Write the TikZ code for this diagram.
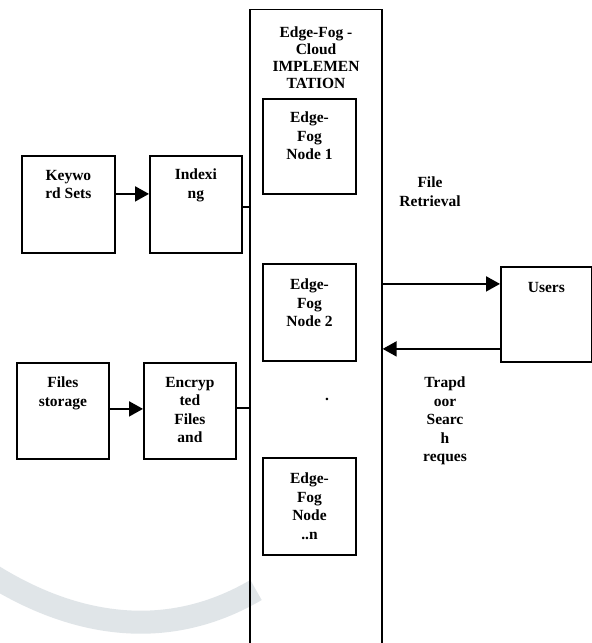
\documentclass[tikz,border=0pt]{standalone}
\usepackage{fontspec}
\setmainfont{Liberation Serif}
\usetikzlibrary{arrows.meta}
\begin{document}
\begin{tikzpicture}[x=1pt,y=-1pt,
  box/.style={draw=black,line width=1.8pt,minimum width=#1,inner sep=0pt},
  box/.default=92pt,
  lbl/.style={font=\fontsize{15.5}{18.4}\selectfont\bfseries,align=center,inner sep=0pt,anchor=north},
  arr/.style={line width=2pt,-{Triangle[length=14pt,width=15pt]}},
  conn/.style={line width=1.3pt}]
\useasboundingbox (0,0) rectangle (592,643);
\clip (0,0) rectangle (592,643);
\fill[white] (0,0) rectangle (592,643);
% watermark arc
\draw[line width=23pt,color={rgb,255:red,224;green,229;blue,232}]
  (-10,574) .. controls (50,612) and (150,652) .. (256,590);
% big box
\node[draw=black,line width=1.3pt,minimum width=132pt,minimum height=660pt,inner sep=0pt,anchor=north] (cloud) at (316,9) {};
\node[lbl,font=\fontsize{15.5}{16.8}\selectfont\bfseries] (title) at (316,27) {Edge-Fog -\\Cloud\\IMPLEMEN\\TATION};
% fog nodes
\node[box=93pt,minimum height=95pt,anchor=north] (n1) at (309.5,98) {};
\node[lbl] (n1t) at (309.5,112) {Edge-\\Fog\\Node 1};
\node[box=93pt,minimum height=97pt,anchor=north] (n2) at (309.5,263) {};
\node[lbl] (n2t) at (309.5,279) {Edge-\\Fog\\Node 2};
\node[box=93pt,minimum height=97pt,anchor=north] (nn) at (309.5,457) {};
\node[lbl] (nnt) at (309.5,473) {Edge-\\Fog\\Node\\..n};
\node[lbl] (dot) at (327,398) {.};
% left side
\node[box=93pt,minimum height=97pt,anchor=north west] (kw) at (21,155) {};
\node[lbl] (kwt) at (kw.north) [yshift=-15pt] {Keywo\\rd Sets};
\node[box=92pt,minimum height=97pt,anchor=north west] (idx) at (149,155) {};
\node[lbl] (idxt) at (idx.north) [yshift=-14pt] {Indexi\\ng};
\node[box=92pt,minimum height=96pt,anchor=north west] (fs) at (16,362) {};
\node[lbl] (fst) at (fs.north) [yshift=-15pt] {Files\\storage};
\node[box=92pt,minimum height=96pt,anchor=north west] (enc) at (143,362) {};
\node[lbl] (enct) at (enc.north) [yshift=-15pt] {Encryp\\ted\\Files\\and};
% users
\node[box=91pt,minimum height=95pt,anchor=north west] (users) at (500,266) {};
\node[lbl] (userst) at (users.north) [yshift=-16pt] {Users};
% labels
\node[lbl] (fr) at (430,177) {File\\Retrieval};
\node[lbl] (td) at (445,377) {Trapd\\oor\\Searc\\h\\reques};
% connectors
\draw[arr] ([yshift=10.5pt]kw.east) -- ([yshift=10.5pt]idx.west);
\draw[conn] ([yshift=-2.5pt]idx.east) -- ([yshift=-2.5pt]idx.east -| cloud.west);
\draw[arr] ([yshift=2pt]fs.east) -- ([yshift=2pt]enc.west);
\draw[conn] ([yshift=3pt]enc.east) -- ([yshift=3pt]enc.east -| cloud.west);
\draw[arr] ([yshift=30.5pt]users.west -| cloud.east) -- ([yshift=30.5pt]users.west);
\draw[arr] ([yshift=-34.5pt]users.west) -- ([yshift=-34.5pt]users.west -| cloud.east);
\end{tikzpicture}
\end{document}
